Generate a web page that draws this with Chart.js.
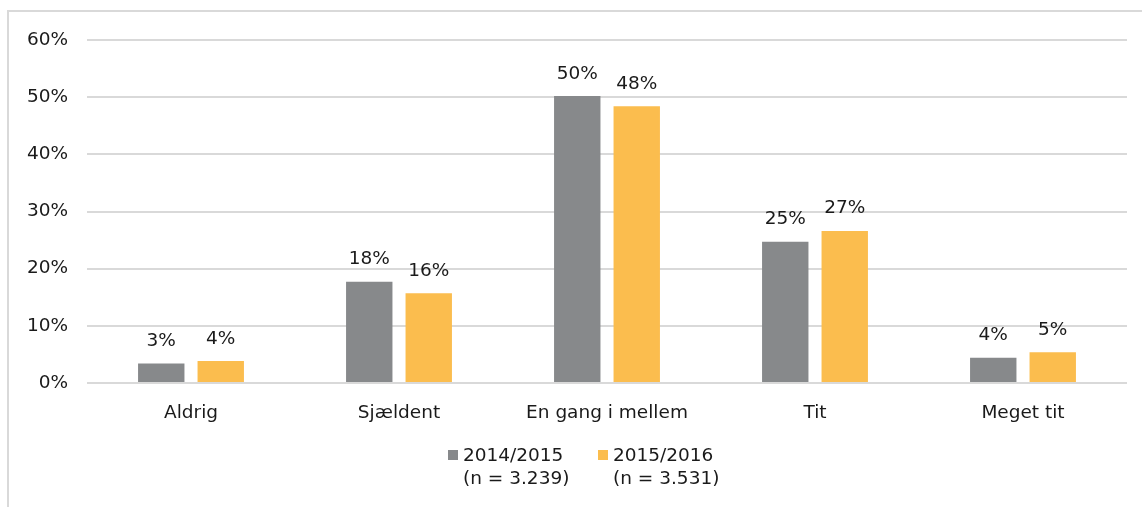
<!DOCTYPE html>
<html>
<head>
<meta charset="utf-8">
<script src="https://cdn.jsdelivr.net/npm/chart.js@4/dist/chart.umd.min.js"></script>
<style>
    html, body { margin: 0; padding: 0; background: #fff; overflow: hidden; }
</style>
</head>
<body>
<canvas id="myChart" width="1142" height="507"></canvas>
<script>
var categories = ['Aldrig', 'Sjældent', 'En gang i mellem', 'Tit', 'Meget tit'];
var seriesNames = [['2014/2015', '(n = 3.239)'], ['2015/2016', '(n = 3.531)']];
var values2014 = [3.4, 17.7, 50.2, 24.7, 4.4];
var values2015 = [3.85, 15.7, 48.4, 26.6, 5.4];
var tickLabels = ['0%', '10%', '20%', '30%', '40%', '50%', '60%'];

var FONT = '"DejaVu Sans", Verdana, sans-serif';
var TXT = '#1a1a1a';

// light frame on the left and top, like the source image
var frame = {
    id: 'frame',
    beforeDraw: function (chart) {
        var ctx = chart.ctx;
        ctx.save();
        ctx.fillStyle = '#d9d9d9';
        ctx.fillRect(7, 10, 2, 497);
        ctx.fillRect(7, 10, 1135, 2);
        ctx.restore();
    }
};

// value labels above each bar
var barLabels = {
    id: 'barLabels',
    afterDatasetsDraw: function (chart) {
        var ctx = chart.ctx;
        ctx.save();
        ctx.font = '18.5px ' + FONT;
        ctx.fillStyle = TXT;
        ctx.textAlign = 'center';
        ctx.textBaseline = 'bottom';
        chart.data.datasets.forEach(function (ds, i) {
            chart.getDatasetMeta(i).data.forEach(function (bar, j) {
                ctx.fillText(Math.round(ds.data[j]) + '%', bar.x, bar.y - 13);
            });
        });
        ctx.restore();
    }
};

// two-line legend under the axis
var bottomLegend = {
    id: 'bottomLegend',
    afterDraw: function (chart) {
        var ctx = chart.ctx;
        var xs = [448, 598];
        ctx.save();
        ctx.font = '18.5px ' + FONT;
        ctx.textAlign = 'left';
        ctx.textBaseline = 'middle';
        chart.data.datasets.forEach(function (ds, i) {
            ctx.fillStyle = ds.backgroundColor;
            ctx.fillRect(xs[i], 450, 10, 10);
            ctx.fillStyle = TXT;
            ds.label.forEach(function (line, k) {
                ctx.fillText(line, xs[i] + 15, 456 + k * 23);
            });
        });
        ctx.restore();
    }
};

var ctx = document.getElementById('myChart').getContext('2d');
var myChart = new Chart(ctx, {
    type: 'bar',
    data: {
        labels: categories,
        datasets: [{
            label: seriesNames[0],
            data: values2014,
            backgroundColor: '#87898b',
            categoryPercentage: 0.572,
            barPercentage: 0.78
        }, {
            label: seriesNames[1],
            data: values2015,
            backgroundColor: '#fbbd4e',
            categoryPercentage: 0.572,
            barPercentage: 0.78
        }]
    },
    plugins: [frame, barLabels, bottomLegend],
    options: {
        responsive: false,
        animation: false,
        layout: {padding: {top: 40, right: 15, bottom: 0, left: 0}},
        plugins: {
            legend: {display: false},
            tooltip: {enabled: false}
        },
        scales: {
            x: {
                grid: {display: false},
                border: {display: false},
                ticks: {color: TXT, font: {family: FONT, size: 18.5}, padding: 11, maxRotation: 0},
                afterFit: function (s) { s.height = 124; }
            },
            y: {
                min: 0,
                max: 60,
                ticks: {
                    stepSize: 10,
                    color: TXT,
                    padding: 19,
                    font: {family: FONT, size: 18.5},
                    callback: function (v) { return tickLabels[Math.round(v / 10)]; }
                },
                grid: {color: '#d9d9d9', lineWidth: 2, drawTicks: false},
                border: {display: false},
                afterFit: function (s) { s.width = 87; }
            }
        }
    }
});
</script>
</body>
</html>
